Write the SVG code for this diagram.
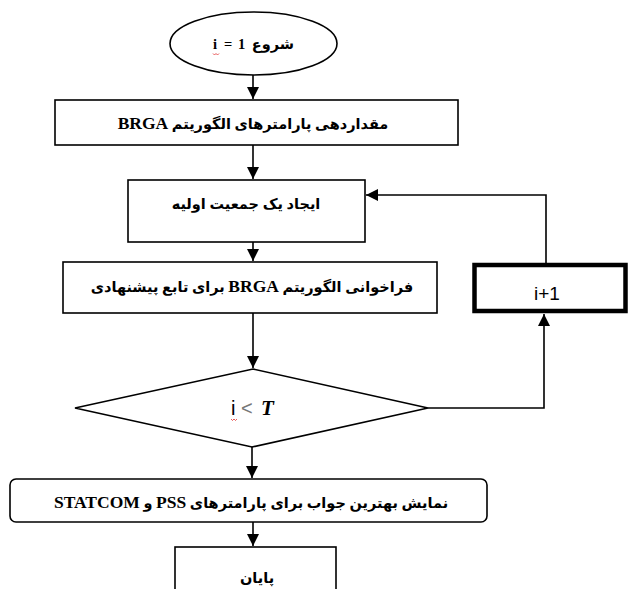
<svg xmlns="http://www.w3.org/2000/svg" width="629" height="589" viewBox="0 0 629 589">
<defs>
<marker id="arr" markerUnits="userSpaceOnUse" markerWidth="14" markerHeight="14" viewBox="0 0 14 14" refX="13" refY="7" orient="auto">
<path d="M1,1 L13,7 L1,13 Z" fill="#000"/>
</marker>
</defs>
<style>
.box{fill:#fff;stroke:#000;stroke-width:1.6}
.fa{font-family:"Liberation Serif","DejaVu Sans",serif;font-weight:bold;font-size:14.5px;fill:#000}
.la{font-size:17.5px}
.con{fill:none;stroke:#000;stroke-width:1.6}
</style>
<rect width="629" height="589" fill="#fff"/>
<g id="connectors">
<path class="con" d="M253,75 V99" marker-end="url(#arr)"/>
<path class="con" d="M253,145 V179" marker-end="url(#arr)"/>
<path class="con" d="M253,242 V261" marker-end="url(#arr)"/>
<path class="con" d="M253,313 V368" marker-end="url(#arr)"/>
<path class="con" d="M252,447 V478" marker-end="url(#arr)"/>
<path class="con" d="M253,522 V546" marker-end="url(#arr)"/>
<path class="con" d="M428,408 H544 V314" marker-end="url(#arr)"/>
<path class="con" d="M546,263 V195 H366" marker-end="url(#arr)"/>
</g>
<g id="start">
<ellipse class="box" cx="253.5" cy="43.5" rx="83.5" ry="31.5"/>
<text class="fa" y="49" font-size="18"><tspan x="213">i</tspan><tspan x="224">=</tspan><tspan x="238">1</tspan></text>
<text class="fa" x="294" y="49" font-size="16" text-anchor="end">شروع</text>
<path d="M213,53.5 l1.5,1.5 l1.5,-1.5 l1.5,1.5 l1.5,-1.5" fill="none" stroke="#e03030" stroke-width="0.8"/>
</g>
<g id="init-params">
<rect class="box" x="55" y="100" width="403" height="45"/>
<text class="fa" x="253" y="129" text-anchor="middle" direction="rtl">مقداردهی پارامترهای الگوریتم <tspan class="la">BRGA</tspan></text>
</g>
<g id="init-pop">
<rect class="box" x="128" y="180" width="237" height="62"/>
<text class="fa" x="246" y="209" text-anchor="middle" direction="rtl">ایجاد یک جمعیت اولیه</text>
</g>
<g id="call-brga">
<rect class="box" x="63" y="262" width="374" height="51"/>
<text class="fa" x="252" y="292" text-anchor="middle" direction="rtl">فراخوانی الگوریتم <tspan class="la">BRGA</tspan> برای تابع پیشنهادی</text>
</g>
<g id="increment">
<rect x="474.5" y="265" width="151" height="46" fill="#fff" stroke="#000" stroke-width="4.5"/>
<text x="547" y="300" font-family="Liberation Sans, Arial, sans-serif" font-size="19" text-anchor="middle" fill="#000">i+1</text>
</g>
<g id="decision">
<polygon class="box" points="75,408 253,369 428,408 252,447"/>
<text x="231" y="415" font-family="Liberation Sans, Arial, sans-serif" font-size="20" fill="#000">i</text>
<text x="241" y="415" font-family="Liberation Sans, Arial, sans-serif" font-size="20" fill="#777">&lt;</text>
<text x="261" y="415" font-family="Liberation Serif, serif" font-weight="bold" font-style="italic" font-size="21" fill="#000">T</text>
<path d="M231,419 l1.5,1.5 l1.5,-1.5 l1.5,1.5 l1.5,-1.5" fill="none" stroke="#e03030" stroke-width="0.8"/>
</g>
<g id="result">
<rect class="box" x="10" y="479" width="477" height="43" rx="6"/>
<text class="fa" x="251" y="508" text-anchor="middle" direction="rtl">نمایش بهترین جواب برای پارامترهای <tspan class="la">PSS</tspan> و <tspan class="la">STATCOM</tspan></text>
</g>
<g id="end">
<rect class="box" x="175" y="547" width="161" height="60"/>
<text class="fa" x="257" y="583" text-anchor="middle" direction="rtl">پایان</text>
</g>
</svg>
